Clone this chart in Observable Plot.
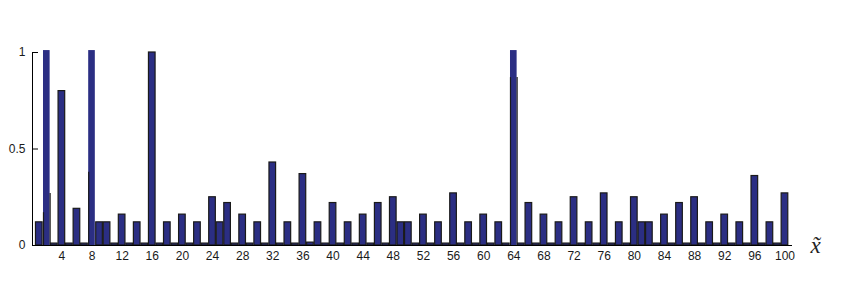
<!DOCTYPE html>
<html>
<head>
<meta charset="utf-8">
<script src="https://cdn.jsdelivr.net/npm/d3@7"></script>
<script src="https://cdn.jsdelivr.net/npm/@observablehq/plot@0.6"></script>
<style>
  html, body { margin: 0; padding: 0; background: #fff; }
  #chart svg { display: block; }
</style>
</head>
<body>
<div id="chart"></div>
<script>
// Bar positions (x̃ = 1..100)
const positions = d3.range(1, 101);
// Bar heights (bars at 2, 8, 64 run past the top of the axes)
const values = [
  0.12, 1.01, 0.01, 0.80, 0.01, 0.19, 0.01, 1.01, 0.12, 0.12,
  0.01, 0.16, 0.01, 0.12, 0.01, 1.00, 0.01, 0.12, 0.01, 0.16,
  0.01, 0.12, 0.01, 0.25, 0.12, 0.22, 0.01, 0.16, 0.01, 0.12,
  0.01, 0.43, 0.01, 0.12, 0.01, 0.37, 0.015, 0.12, 0.01, 0.22,
  0.01, 0.12, 0.01, 0.16, 0.01, 0.22, 0.01, 0.25, 0.12, 0.12,
  0.01, 0.16, 0.01, 0.12, 0.01, 0.27, 0.01, 0.12, 0.01, 0.16,
  0.01, 0.12, 0.01, 1.01, 0.01, 0.22, 0.01, 0.16, 0.01, 0.12,
  0.01, 0.25, 0.01, 0.12, 0.01, 0.27, 0.01, 0.12, 0.01, 0.25,
  0.12, 0.12, 0.01, 0.16, 0.01, 0.22, 0.01, 0.25, 0.01, 0.12,
  0.01, 0.16, 0.01, 0.12, 0.01, 0.36, 0.01, 0.12, 0.01, 0.27
];
// Partial black edges visible on the clipped bars (left / right edge heights)
const clippedX = [2, 8, 64];
const clippedLeftEdge = [0.17, 0.38, 0.87];
const clippedRightEdge = [0.27, 0.00, 0.87];

const yTicks = [0, 0.5, 1];
const yTickLabels = ["0", "0.5", "1"];
const xTicks = [4, 8, 12, 16, 20, 24, 28, 32, 36, 40, 44, 48, 52, 56, 60, 64, 68, 72, 76, 80, 84, 88, 92, 96, 100];
const xLabel = "x\u0303";

const xDomain = [0.1, 101];
const half = 0.44;

const bars = positions.map((x, i) => ({x, v: values[i]}));
const normal = bars.filter(d => d.v <= 1);
const clipped = bars.filter(d => d.v > 1);
const edges = [];
clippedX.forEach((x, i) => {
  edges.push({x: x - half, v: clippedLeftEdge[i]});
  edges.push({x: x + half, v: clippedRightEdge[i]});
});

const fillColor = "#2b2e83";
const edgeColor = "#1a1a1a";

const chart = Plot.plot({
  width: 845,
  height: 292,
  marginLeft: 32,
  marginRight: 53,
  marginTop: 52,
  marginBottom: 47,
  style: {fontFamily: "'Liberation Sans', Arial, sans-serif", fontSize: "12px", color: "#1a1a1a", background: "#fff"},
  x: {type: "linear", domain: xDomain},
  y: {domain: [0, 1]},
  marks: [
    Plot.rect(clipped, {x1: d => d.x - half, x2: d => d.x + half, y1: 0, y2: "v", fill: fillColor}),
    Plot.ruleX(edges.filter(d => d.v > 0), {x: "x", y1: 0, y2: "v", stroke: edgeColor, strokeWidth: 1.2}),
    Plot.rect(normal, {x1: d => d.x - half, x2: d => d.x + half, y1: 0, y2: "v", fill: fillColor, stroke: edgeColor, strokeWidth: 1.2}),
    Plot.ruleY([0], {stroke: "#000", strokeWidth: 1}),
    Plot.ruleX([xDomain[0]], {y1: 0, y2: 1, stroke: "#000", strokeWidth: 1}),
    Plot.axisY({ticks: yTicks, tickFormat: (d, i) => yTickLabels[i], tickSize: -6, tickPadding: 13, label: null, stroke: "#000"}),
    Plot.axisX({ticks: xTicks, tickFormat: d => String(d), tickSize: 0, tickPadding: 6, label: null}),
    Plot.text([xLabel], {text: d => d, frameAnchor: "bottom-right", dx: 23, dy: 7, lineAnchor: "bottom", textAnchor: "middle", fontFamily: "'Liberation Serif', 'DejaVu Serif', serif", fontStyle: "italic", fontSize: 23, fill: "#222"})
  ]
});
document.getElementById("chart").appendChild(chart);
</script>
</body>
</html>
